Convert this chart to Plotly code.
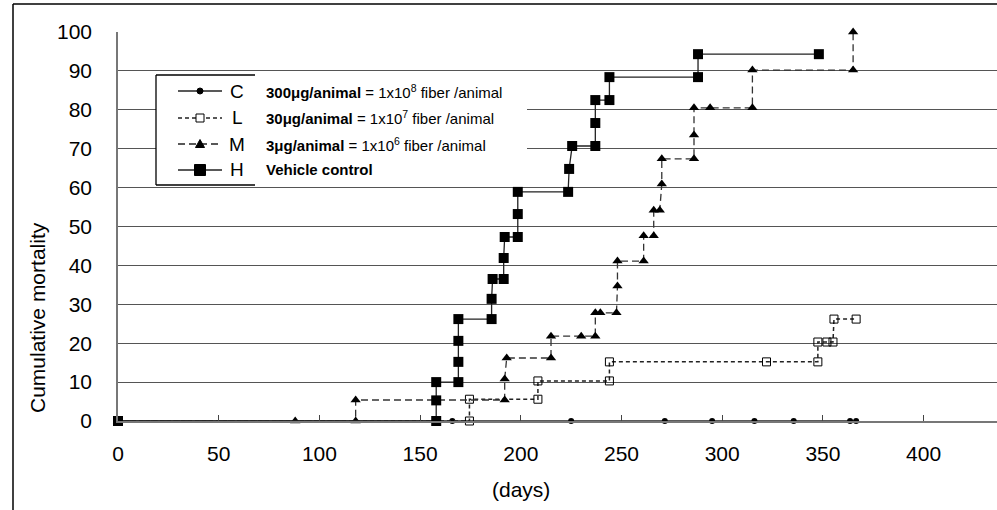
import plotly.graph_objects as go

# ---------------- data ----------------
C_days = [0, 166, 225, 271.5, 295, 316, 335.5, 363.5, 366.5]
C_vals = [0, 0, 0, 0, 0, 0, 0, 0, 0]

L_days = [0, 174.5, 174.5, 208.5, 208.5, 244, 244, 322, 347.5, 347.5, 352, 355, 355.5, 366.5]
L_vals = [0, 0, 5.6, 5.6, 10.3, 10.3, 15.2, 15.2, 15.2, 20.3, 20.3, 20.3, 26.2, 26.2]

M_days = [0, 88, 118, 118, 192, 192, 193, 215, 215, 230, 237, 237, 239.5, 247.5, 248, 248,
          261, 261, 266, 266, 269, 270, 270, 286, 286, 286, 294, 315, 315, 365, 365]
M_vals = [0, 0, 0, 5.4, 5.4, 10.8, 16.2, 16.2, 21.8, 21.8, 21.8, 27.8, 27.8, 27.8, 34.7, 41.1,
          41.1, 47.6, 47.6, 54.2, 54.2, 60.9, 67.4, 67.4, 73.5, 80.5, 80.5, 80.5, 90.2, 90.2, 100]

H_days = [0, 158, 158, 158, 169, 169, 169, 169, 185.5, 185.5, 186, 191.5, 191.5, 192, 198.5,
          198.5, 198.5, 223.5, 224, 225.5, 237, 237, 237, 244, 244, 288, 288, 348]
H_vals = [0, 0, 5.3, 10, 10, 15.2, 20.6, 26.2, 26.2, 31.4, 36.5, 36.5, 41.9, 47.3, 47.3,
          53.2, 58.9, 58.9, 64.8, 70.7, 70.7, 76.6, 82.5, 82.5, 88.4, 88.4, 94.3, 94.3]

x_ticks = [0, 50, 100, 150, 200, 250, 300, 350, 400]
y_ticks = [0, 10, 20, 30, 40, 50, 60, 70, 80, 90, 100]

legend_letters = ["C", "L", "M", "H"]
legend_labels = [
    "<b>300μg/animal</b> = 1x10<sup>8</sup> fiber /animal",
    "<b>30μg/animal</b> = 1x10<sup>7</sup> fiber /animal",
    "<b>3μg/animal</b> = 1x10<sup>6</sup> fiber /animal",
    "<b>Vehicle control</b>",
]

# ---------------- layout helpers (pixel -> paper) ----------------
W, Hh = 997, 510
PL, PR, PT, PB = 118, 997, 32, 421


def px(x):
    return (x - PL) / (PR - PL)


def py(y):
    return (PB - y) / (PB - PT)


FONT = "Liberation Sans, Arial, sans-serif"

fig = go.Figure()

fig.add_trace(go.Scatter(
    x=C_days, y=C_vals, mode="lines+markers", name="C",
    line=dict(color="#222", width=1.3),
    marker=dict(symbol="circle", size=6, color="black"),
    cliponaxis=False, showlegend=False))

fig.add_trace(go.Scatter(
    x=L_days, y=L_vals, mode="lines+markers", name="L",
    line=dict(color="#222", width=1.5, dash="4px,3px"),
    marker=dict(symbol="square-open", size=8, color="black", line=dict(width=1)),
    cliponaxis=False, showlegend=False))

fig.add_trace(go.Scatter(
    x=M_days, y=M_vals, mode="lines+markers", name="M",
    line=dict(color="#333", width=1.3, dash="7px,4px"),
    marker=dict(symbol="triangle-up", size=9, color="black"),
    cliponaxis=False, showlegend=False))

fig.add_trace(go.Scatter(
    x=H_days, y=H_vals, mode="lines+markers", name="H",
    line=dict(color="#222", width=1.3),
    marker=dict(symbol="square", size=10, color="black"),
    cliponaxis=False, showlegend=False))

shapes = []
annotations = []

# outer frame (left and top)
shapes.append(dict(type="line", xref="paper", yref="paper",
                   x0=px(13), x1=px(997), y0=py(4), y1=py(4),
                   line=dict(color="black", width=1.5)))
shapes.append(dict(type="line", xref="paper", yref="paper",
                   x0=px(13), x1=px(13), y0=py(4), y1=py(510),
                   line=dict(color="black", width=1.5)))

# legend box
shapes.append(dict(type="rect", xref="paper", yref="paper",
                   x0=px(156), x1=px(527), y0=py(75), y1=py(185),
                   fillcolor="white", line=dict(width=0)))
for (x0, y0, x1, y1) in [(156, 75, 156, 185), (156, 75, 255, 75), (156, 185, 255, 185)]:
    shapes.append(dict(type="line", xref="paper", yref="paper",
                       x0=px(x0), x1=px(x1), y0=py(y0), y1=py(y1),
                       line=dict(color="black", width=1.3)))

rows = [91, 118, 144, 170]
dashes = ["solid", "4px,3px", "7px,4px", "solid"]
for i, ry in enumerate(rows):
    shapes.append(dict(type="line", xref="paper", yref="paper",
                       x0=px(178), x1=px(222), y0=py(ry), y1=py(ry),
                       line=dict(color="#222", width=1.3, dash=dashes[i])))
# legend markers
cx = 200
r = 3
shapes.append(dict(type="circle", xref="paper", yref="paper",
                   x0=px(cx - r), x1=px(cx + r), y0=py(rows[0] + r), y1=py(rows[0] - r),
                   fillcolor="black", line=dict(color="black", width=1)))
s = 4
shapes.append(dict(type="rect", xref="paper", yref="paper",
                   x0=px(cx - s), x1=px(cx + s), y0=py(rows[1] + s), y1=py(rows[1] - s),
                   fillcolor="white", line=dict(color="black", width=1)))
t = 4.5
path = "M {} {} L {} {} L {} {} Z".format(px(cx - t), py(rows[2] + 3.5), px(cx + t), py(rows[2] + 3.5),
                                        px(cx), py(rows[2] - 4.5))
shapes.append(dict(type="path", xref="paper", yref="paper", path=path,
                   fillcolor="black", line=dict(color="black", width=1)))
s = 5.5
shapes.append(dict(type="rect", xref="paper", yref="paper",
                   x0=px(cx - s), x1=px(cx + s), y0=py(rows[3] + s), y1=py(rows[3] - s),
                   fillcolor="black", line=dict(color="black", width=1)))

for i, ry in enumerate(rows):
    annotations.append(dict(xref="paper", yref="paper", x=px(237), y=py(ry),
                            text=legend_letters[i], showarrow=False,
                            xanchor="center", yanchor="middle",
                            font=dict(family=FONT, size=19, color="black")))
    annotations.append(dict(xref="paper", yref="paper", x=px(264), y=py(ry),
                            text=legend_labels[i], showarrow=False,
                            xanchor="left", yanchor="middle",
                            font=dict(family=FONT, size=15, color="black")))

# axis titles
annotations.append(dict(xref="paper", yref="paper", x=px(37), y=py(318),
                        text="Cumulative mortality", textangle=-90, showarrow=False,
                        xanchor="center", yanchor="middle",
                        font=dict(family=FONT, size=21, color="black")))
annotations.append(dict(xref="paper", yref="paper", x=px(521), y=py(489),
                        text="(days)", showarrow=False,
                        xanchor="center", yanchor="middle",
                        font=dict(family=FONT, size=21, color="black")))

fig.update_layout(
    width=W, height=Hh,
    margin=dict(l=PL, r=W - PR, t=PT, b=Hh - PB, pad=0),
    paper_bgcolor="white", plot_bgcolor="white",
    showlegend=False,
    shapes=shapes, annotations=annotations,
    xaxis=dict(range=[0, (PR - PL) / 2.014], tickvals=x_ticks,
               ticktext=[str(v) for v in x_ticks],
               showgrid=False, zeroline=False,
               showline=True, linecolor="#777", linewidth=1.5,
               ticks="inside", ticklen=6, tickcolor="#444", tickwidth=1,
               ticklabelstandoff=13,
               tickfont=dict(family=FONT, size=21, color="black")),
    yaxis=dict(range=[0, 100], tickvals=y_ticks,
               ticktext=[str(v) for v in y_ticks],
               showgrid=True, gridcolor="#555", gridwidth=1, zeroline=False,
               showline=True, linecolor="#777", linewidth=1.5,
               ticks="", ticklabelstandoff=20,
               tickfont=dict(family=FONT, size=21, color="black")),
)

fig.write_html("out.html")
